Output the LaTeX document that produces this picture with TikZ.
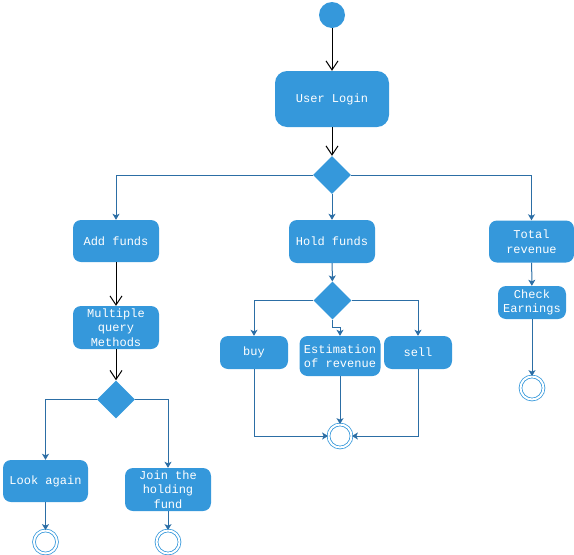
\documentclass[tikz,border=0pt]{standalone}
\usepackage{fontspec}
\setmonofont{Liberation Mono}
\usetikzlibrary{shapes.geometric,arrows.meta,calc}
\definecolor{actblue}{HTML}{3598DB}
\definecolor{lineblue}{HTML}{2C6EA5}
\begin{document}
\begin{tikzpicture}[x=1pt,y=-1pt,
  act/.style={rectangle,rounded corners=8pt,fill=actblue,text=white,inner sep=0pt,align=center,
    font=\ttfamily\fontsize{12}{14.5}\selectfont},
  dec/.style={diamond,aspect=1,fill=actblue,inner sep=0pt,minimum width=38pt,minimum height=38pt},
  startnode/.style={circle,fill=actblue,inner sep=0pt,minimum size=26pt},
  finalnode/.style={circle,draw=actblue,double=white,double distance=2pt,line width=0.8pt,inner sep=0pt,minimum size=23pt},
  flow/.style={draw=lineblue,line width=1pt,-{Stealth[length=6pt,width=7pt,inset=1.5pt]}},
  blk/.style={draw=black,line width=1pt,-{Straight Barb[length=9pt,width=12pt]}}]
\useasboundingbox (0,0) rectangle (574,555);
% nodes
\node[startnode] (start) at (332,15) {};
\node[act,rounded corners=12pt,minimum width=114pt,minimum height=56pt] (login) at (332,99) {User Login};
\node[dec] (d1) at (332,175) {};
\node[act,minimum width=86pt,minimum height=42pt] (add) at (116,241) {Add funds};
\node[act,minimum width=86pt,minimum height=43pt] (hold) at (332,241.5) {Hold funds};
\node[act,minimum width=85pt,minimum height=42pt] (total) at (531.5,241.5) {Total\\revenue};
\node[act,minimum width=68pt,minimum height=33pt] (check) at (532,302.5) {Check\\Earnings};
\node[finalnode] (fr) at (532,388) {};
\node[act,minimum width=86pt,minimum height=43pt] (multi) at (116,327.5) {Multiple\\query\\Methods};
\node[dec] (d2) at (116,399.5) {};
\node[act,minimum width=85pt,minimum height=42pt] (look) at (45.5,481) {Look again};
\node[act,minimum width=86pt,minimum height=43pt] (join) at (168,489.5) {Join the\\holding\\fund};
\node[finalnode] (fl) at (45.5,542) {};
\node[finalnode] (fj) at (168,542) {};
\node[dec] (d3) at (332.5,300.5) {};
\node[act,minimum width=68pt,minimum height=33pt] (buy) at (254,352.5) {buy};
\node[act,minimum width=81pt,minimum height=40pt] (est) at (340,356) {Estimation\\of revenue};
\node[act,minimum width=68pt,minimum height=33pt] (sell) at (418,352.5) {sell};
\node[finalnode] (fm) at (340,436) {};
% connectors
\draw[blk] (start) -- (login);
\draw[blk] (login) -- (d1);
\draw[flow] (d1.west) -| (add.north);
\draw[flow] (d1.south) -- (hold.north);
\draw[flow] (d1.east) -| (total.north);
\draw[flow] (total) -- (check);
\draw[flow] (check) -- (fr);
\draw[blk] (add) -- (multi);
\draw[blk] (multi) -- (d2);
\draw[flow] (d2.west) -| (look.north);
\draw[flow] (d2.east) -| (join.north);
\draw[flow] (look) -- (fl);
\draw[flow] (join) -- (fj);
\draw[flow] (hold) -- (d3);
\draw[flow] (d3.west) -| (buy.north);
\draw[flow] (d3.east) -| (sell.north);
\draw[flow] (d3.south) -- ++(0,8) -| (est.north);
\draw[flow] (buy.south) |- (fm.west);
\draw[flow] (sell.south) |- (fm.east);
\draw[flow] (est.south) -- (fm.north);
\end{tikzpicture}
\end{document}
